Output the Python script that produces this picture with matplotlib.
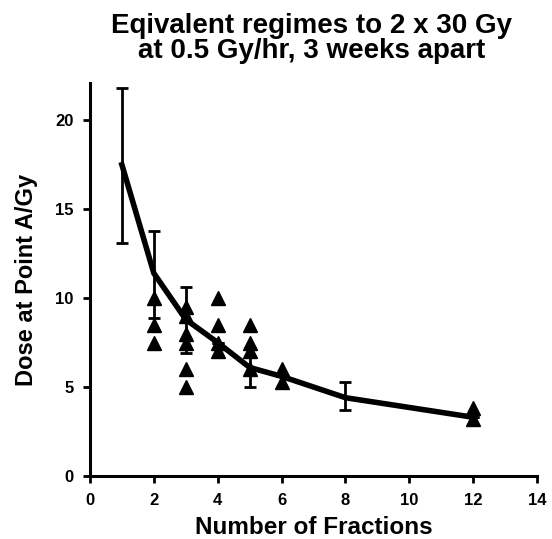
import matplotlib
matplotlib.use('Agg')
from matplotlib import pyplot as plt

# fitted curve with error bars
fractions = [1, 2, 3, 4, 5, 6, 8, 12]
dose = [17.5, 11.4, 8.8, 7.5, 6.1, 5.6, 4.4, 3.3]
err_low = [4.4, 2.5, 1.9, 0.0, 1.1, 0.0, 0.7, 0.0]
err_high = [4.3, 2.4, 1.8, 0.0, 1.1, 0.0, 0.9, 0.0]

# individual regimes (triangles)
pts_x = [2, 2, 2, 3, 3, 3, 3, 3, 3, 4, 4, 4, 4, 5, 5, 5, 5, 6, 6, 12, 12]
pts_y = [10.0, 8.5, 7.5, 9.5, 9.0, 8.0, 7.5, 6.0, 5.0,
         10.0, 8.5, 7.5, 7.0, 8.5, 7.5, 7.0, 6.0, 6.0, 5.3, 3.8, 3.2]

plt.rcParams['font.family'] = ['Liberation Sans', 'DejaVu Sans']
plt.rcParams['font.weight'] = 'bold'

fig = plt.figure(figsize=(5.52, 5.39), dpi=100)
ax = fig.add_axes([0.163, 0.117, 0.81, 0.729])

ax.plot(fractions, dose, color='black', lw=4, zorder=2)
ax.errorbar(fractions, dose, yerr=[err_low, err_high], fmt='none',
            ecolor='black', elinewidth=2, capsize=4.5, capthick=2, zorder=2)
ax.plot(pts_x, pts_y, '^', color='black', markersize=10, zorder=3)

ax.set_xlim(0, 14)
ax.set_ylim(0, 22.1)
ax.set_xticks(range(0, 15, 2))
ax.set_yticks([0, 5, 10, 15, 20])

for s in ['top', 'right']:
    ax.spines[s].set_visible(False)
for s in ['left', 'bottom']:
    ax.spines[s].set_linewidth(2.2)
ax.tick_params(width=2, length=5, labelsize=12, pad=7)

ax.set_xlabel('Number of Fractions', fontsize=17.5, fontweight='bold', labelpad=6)
ax.set_ylabel('Dose at Point A/Gy', fontsize=17, fontweight='bold', labelpad=12)
fig.text(0.565, 0.975, 'Eqivalent regimes to 2 x 30 Gy\nat 0.5 Gy/hr, 3 weeks apart',
         ha='center', va='top', fontsize=20, fontweight='bold', linespacing=0.95)

fig.savefig('out.png', dpi=100)
